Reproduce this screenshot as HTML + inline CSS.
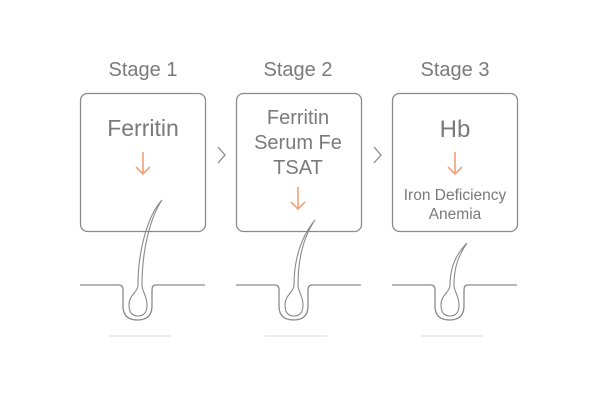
<!DOCTYPE html>
<html><head><style>
body{margin:0;width:600px;height:400px;background:#fff;overflow:hidden}
text{font-family:"Liberation Sans","DejaVu Sans",sans-serif;fill:#7a7a7a;text-anchor:middle}
</style></head><body>
<svg width="600" height="400" viewBox="0 0 600 400" xmlns="http://www.w3.org/2000/svg">
<defs>
<g id="fol" fill="none" stroke="#8a8a8a" stroke-width="1.3">
  <path d="M80,285 H119 Q123,285 123,290 V306 Q123,320 137.5,320 Q152,320 152,306 V290 Q152,285 156,285 H205"/>
  <line x1="109" y1="336" x2="171" y2="336" stroke="#e2e2e2"/>
</g>
</defs>
<g stroke="#8a8a8a" stroke-width="1.3" fill="none">
  <rect x="80.5" y="93.5" width="125" height="138" rx="7"/>
  <rect x="236.5" y="93.5" width="125" height="138" rx="7"/>
  <rect x="392.5" y="93.5" width="125" height="138" rx="7"/>
  <path d="M218,147 L225,155 L218,163"/>
  <path d="M374,147 L381,155 L374,163"/>
</g>
<text x="143" y="76" font-size="20">Stage 1</text>
<text x="298" y="76" font-size="20">Stage 2</text>
<text x="455" y="76" font-size="20">Stage 3</text>
<text x="143" y="136" font-size="23">Ferritin</text>
<text x="298" y="124" font-size="20">Ferritin</text>
<text x="298" y="149" font-size="20">Serum Fe</text>
<text x="298" y="174" font-size="20">TSAT</text>
<text x="455" y="137" font-size="24">Hb</text>
<text x="455" y="200" font-size="15.5">Iron Deficiency</text>
<text x="455" y="219" font-size="15.5">Anemia</text>
<g stroke="#f0a27a" stroke-width="1.6" fill="none">
  <path d="M143,152 V174 M136,167 L143,174 L150,167"/>
  <path d="M298,187 V209 M291,202 L298,209 L305,202"/>
  <path d="M455,152 V174 M448,167 L455,174 L462,167"/>
</g>
<use href="#fol"/>
<use href="#fol" x="156"/>
<use href="#fol" x="312"/>
<g fill="none" stroke="#8a8a8a" stroke-width="1.1">
  <path d="M162,200 C148,215 138,250 138,285 C138,292 129,295 129,305 Q129,316 138,316 Q147,316 147,305 C147,295 142,292 142,285 C142,250 150,218 162,200Z"/>
  <path d="M315,220 C302,236 294,258 294,285 C294,292 285,295 285,305 Q285,316 294,316 Q303,316 303,305 C303,295 298,292 298,285 C298,258 304,236 315,220Z"/>
  <path d="M467,243 C456,254 450,268 450,285 C450,292 441,295 441,305 Q441,316 450,316 Q459,316 459,305 C459,295 454,292 454,285 C454,268 458,256 467,243Z"/>
</g>
</svg>
</body></html>
